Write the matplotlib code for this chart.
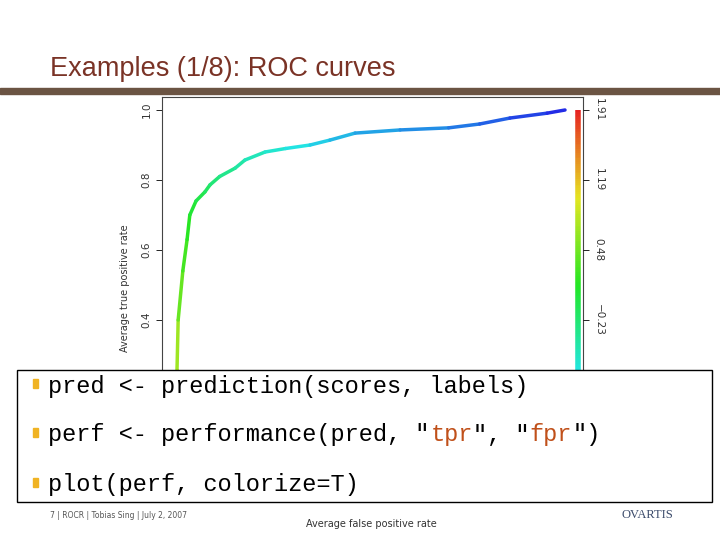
import numpy as np
import matplotlib
matplotlib.use("Agg")
import matplotlib.pyplot as plt
from matplotlib.collections import LineCollection
from matplotlib.colors import LinearSegmentedColormap, hsv_to_rgb, Normalize
from matplotlib.patches import Rectangle

fpr = [0.0, 0.0, 0.003, 0.015, 0.026, 0.033, 0.049, 0.072, 0.085, 0.11, 0.15, 0.175,
       0.227, 0.28, 0.343, 0.394, 0.459, 0.575, 0.70, 0.78, 0.858, 0.954, 1.0]
tpr = [-0.06, 0.257, 0.40, 0.54, 0.63, 0.70, 0.74, 0.766, 0.786, 0.81, 0.834, 0.857,
       0.88, 0.89, 0.90, 0.914, 0.934, 0.943, 0.949, 0.96, 0.977, 0.991, 1.0]
cutoff = [1.1, 0.85, 0.55, 0.35, 0.2, 0.1, 0.0, -0.1, -0.2, -0.3, -0.4, -0.5,
          -0.6, -0.7, -0.8, -0.9, -1.0, -1.1, -1.2, -1.3, -1.42, -1.55, -1.64]
cbar_ticks = [1.0, 0.8, 0.6, 0.4]
cbar_labels = ["1.91", "1.19", "0.48", "\u22120.23"]
code_lines = ['pred <- prediction(scores, labels)',
              'perf <- performance(pred, "tpr", "fpr")',
              'plot(perf, colorize=T)']

hues = np.linspace(0.0, 4/6, 64)
cols = hsv_to_rgb(np.stack([hues, np.full(64, 0.85), np.full(64, 0.9)], axis=1))
cmap = LinearSegmentedColormap.from_list("rrainbow", cols[::-1])
norm = Normalize(-1.64, 1.91)

W, H = 720, 540
fig = plt.figure(figsize=(7.2, 5.4), dpi=100)

fig.text(50/W, 1-69/H, "Examples (1/8): ROC curves", fontsize=19.5, color="#7a3326",
         family="Liberation Sans", va="center", ha="left")
fig.patches.append(Rectangle((0, 1-94/H), 1, 6/H, transform=fig.transFigure,
                             color="#6b5443", zorder=1))

l, r, t, b = 162, 583, 97, 480
ax = fig.add_axes([l/W, 1-b/H, (r-l)/W, (b-t)/H])
ax.set_xlim((l-177)/388, (r-177)/388)
ax.set_ylim((460-b)/350, (460-t)/350)
for s in ax.spines.values():
    s.set_linewidth(0.8)
    s.set_color("#444444")
ax.set_xticks([])
ax.set_yticks([0.4, 0.6, 0.8, 1.0])
ax.set_yticklabels(["0.4", "0.6", "0.8", "1.0"], rotation=90, va="center",
                   fontsize=7.5, color="#333333")
ax.tick_params(axis="y", length=4, width=0.6)
ax.set_ylabel("Average true positive rate", fontsize=7, color="#333333", labelpad=8)

x = np.array(fpr); y = np.array(tpr); c = np.array(cutoff)
pts = np.stack([x, y], axis=1)
segs = np.stack([pts[:-1], pts[1:]], axis=1)
lc = LineCollection(segs, cmap=cmap, norm=norm, linewidth=2.5, capstyle="round")
lc.set_array((c[:-1] + c[1:]) / 2)
ax.add_collection(lc)

cy = np.linspace(-0.06, 1.0, 200)
cc = 1.91 - (1 - cy) * 3.55
cpts = np.stack([np.full_like(cy, 1.033), cy], axis=1)
csegs = np.stack([cpts[:-1], cpts[1:]], axis=1)
clc = LineCollection(csegs, cmap=cmap, norm=norm, linewidth=4)
clc.set_array((cc[:-1] + cc[1:]) / 2)
ax.add_collection(clc)

ax2 = ax.twinx()
ax2.set_ylim(ax.get_ylim())
ax2.set_yticks(cbar_ticks)
ax2.set_yticklabels(cbar_labels, rotation=-90, va="center", fontsize=7.5, color="#333333")
ax2.tick_params(axis="y", length=4, width=0.6)
for s in ax2.spines.values():
    s.set_visible(False)

fig.patches.append(Rectangle((17/W, 1-502/H), (712-17)/W, (502-370)/H,
                             transform=fig.transFigure, facecolor="white",
                             edgecolor="black", linewidth=1, zorder=5))
ys = [386, 435, 485]
adv = 0.6 * 17 * 100 / 72
for yy, line in zip(ys, code_lines):
    fig.patches.append(Rectangle((33/W, 1-(yy+2)/H), 5/W, 9/H, transform=fig.transFigure,
                                 color="#f0b323", zorder=6))
    # split into plain / string-literal pieces
    pieces = []
    buf = ""
    inq = False
    for ch in line:
        if ch == '"':
            if inq:
                pieces.append((buf, "#c0501a")); buf = '"'
            else:
                buf += '"'; pieces.append((buf, "black")); buf = ""
            inq = not inq
        else:
            buf += ch
    pieces.append((buf, "black"))
    pos = 0
    for txt, col in pieces:
        if txt:
            fig.text((48 + pos*adv)/W, 1-yy/H, txt, fontsize=17, family="Liberation Mono",
                     color=col, va="center", ha="left", zorder=7)
        pos += len(txt)

fig.text(50/W, 1-515/H, "7 | ROCR | Tobias Sing | July 2, 2007", fontsize=5.5,
         color="#555555", va="center")
fig.text(371/W, 1-524/H, "Average false positive rate", fontsize=7, color="#333333",
         ha="center", va="center")
fig.text(673/W, 1-515/H, "OVARTIS", fontsize=9, family="Liberation Serif",
         color="#3a4a6a", ha="right", va="center")

fig.savefig("out.png", dpi=100)
